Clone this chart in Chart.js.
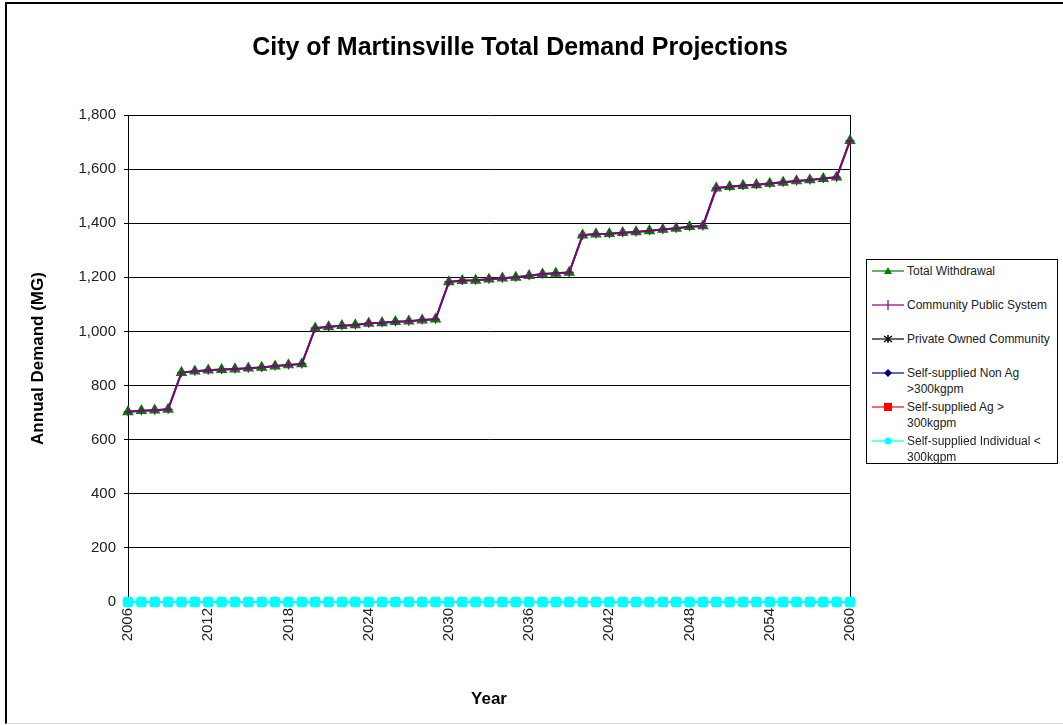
<!DOCTYPE html>
<html>
<head>
<meta charset="utf-8">
<title>City of Martinsville Total Demand Projections</title>
<script src="https://cdn.jsdelivr.net/npm/chart.js@4.4.0/dist/chart.umd.min.js"></script>
<style>
  body { margin: 0; background: #fff; font-family: Arial, "Liberation Sans", sans-serif; }
  #wrap { position: relative; width: 1063px; height: 725px; overflow: hidden; }
  #frame { position: absolute; left: 5px; top: 2px; width: 1060px; height: 722px; box-sizing: border-box;
           border-left: 2px solid #000; border-top: 2px solid #000; border-bottom: 1px solid #ddd; }
  #chartBox { position: absolute; left: 0; top: 0; width: 1063px; height: 725px; }
  #legend { position: absolute; left: 866px; top: 259px; width: 192px; height: 205px; box-sizing: border-box;
            border: 1px solid #000; background: #fff; }
  .item { position: relative; height: 34px; }
  .item svg { position: absolute; left: 5px; top: 3px; }
  .item span { position: absolute; left: 40px; top: 3px; font-size: 12px; line-height: 16px; color: #222; white-space: nowrap; }
</style>
</head>
<body>
<div id="wrap">
  <div id="frame"></div>
  <div id="chartBox"><canvas id="demandChart"></canvas></div>
  <div id="legend"></div>
</div>
<script>
const years = ['2006', '2007', '2008', '2009', '2010', '2011', '2012', '2013', '2014', '2015',
  '2016', '2017', '2018', '2019', '2020', '2021', '2022', '2023', '2024', '2025',
  '2026', '2027', '2028', '2029', '2030', '2031', '2032', '2033', '2034', '2035',
  '2036', '2037', '2038', '2039', '2040', '2041', '2042', '2043', '2044', '2045',
  '2046', '2047', '2048', '2049', '2050', '2051', '2052', '2053', '2054', '2055',
  '2056', '2057', '2058', '2059', '2060'];

const xTickLabels = ['2006', '2012', '2018', '2024', '2030', '2036', '2042', '2048', '2054', '2060'];
const yTickValues = [0, 200, 400, 600, 800, 1000, 1200, 1400, 1600, 1800];

const totalWithdrawal = [703, 707, 709, 712,
  848, 853, 857, 859, 861, 864, 867, 872, 876, 880,
  1012, 1017, 1021, 1024, 1030, 1032, 1036, 1038, 1042, 1045,
  1183, 1188, 1189, 1193, 1197, 1200, 1206, 1212, 1215, 1218,
  1356, 1360, 1361, 1365, 1368, 1372, 1377, 1381, 1387, 1390,
  1530, 1535, 1539, 1542, 1547, 1551, 1556, 1560, 1565, 1570,
  1705];

const communityPublic = [703, 707, 709, 712,
  848, 853, 857, 859, 861, 864, 867, 872, 876, 880,
  1012, 1017, 1021, 1024, 1030, 1032, 1036, 1038, 1042, 1045,
  1183, 1188, 1189, 1193, 1197, 1200, 1206, 1212, 1215, 1218,
  1356, 1360, 1361, 1365, 1368, 1372, 1377, 1381, 1387, 1390,
  1530, 1535, 1539, 1542, 1547, 1551, 1556, 1560, 1565, 1570,
  1705];

// the four small sectors read as zero in every year
const zeroDemand = [0, 0, 0, 0, 0, 0, 0, 0, 0, 0, 0, 0, 0, 0, 0, 0, 0, 0, 0, 0,
  0, 0, 0, 0, 0, 0, 0, 0, 0, 0, 0, 0, 0, 0, 0, 0, 0, 0, 0, 0,
  0, 0, 0, 0, 0, 0, 0, 0, 0, 0, 0, 0, 0, 0, 0];
const privateOwned = zeroDemand;
const selfNonAg = zeroDemand;
const selfAg = zeroDemand;
const selfIndividual = zeroDemand;

const seriesLabels = ['Total Withdrawal', 'Community Public System', 'Private Owned Community',
  'Self-supplied Non Ag\n>300kgpm', 'Self-supplied Ag >\n300kgpm', 'Self-supplied Individual <\n300kgpm'];

document.addEventListener('DOMContentLoaded', function() {
  const ctx = document.getElementById('demandChart').getContext('2d');

  function series(idx, data, color, style, radius, order) {
    return {
      label: seriesLabels[idx],
      data: data,
      borderColor: color,
      backgroundColor: color,
      pointBackgroundColor: color,
      pointBorderColor: color,
      pointStyle: style,
      pointRadius: radius,
      pointBorderWidth: 1.2,
      borderWidth: 2,
      tension: 0,
      clip: false,
      order: order
    };
  }

  const chart = new Chart(ctx, {
    type: 'line',
    data: {
      labels: years,
      datasets: [
        series(0, totalWithdrawal, '#008000', 'triangle', 5.5, 1),
        series(1, communityPublic, '#800080', 'cross', 4.5, 0),
        series(2, privateOwned, '#000000', 'star', 4, 5),
        series(3, selfNonAg, '#000080', 'rectRot', 4, 4),
        series(4, selfAg, '#ff0000', 'rect', 4.5, 3),
        series(5, selfIndividual, '#00ffff', 'rectRounded', 5.5, 2)
      ]
    },
    options: {
      responsive: true,
      maintainAspectRatio: false,
      animation: false,
      layout: { padding: { left: 0, right: 23, top: 0, bottom: 0 } },
      plugins: {
        legend: { display: false },
        tooltip: { enabled: false },
        title: {
          display: true,
          text: 'City of Martinsville Total Demand Projections',
          color: '#000',
          font: { family: 'Arial, "Liberation Sans", sans-serif', size: 25, weight: 'bold' },
          padding: { top: 33, bottom: 52 }
        }
      },
      scales: {
        x: {
          grid: { display: false, drawTicks: false },
          border: { display: true, color: '#000', width: 1 },
          ticks: {
            autoSkip: false,
            minRotation: 90,
            maxRotation: 90,
            padding: 6,
            color: '#222',
            font: { family: 'Arial, "Liberation Sans", sans-serif', size: 15 },
            callback: function(value) {
              const lbl = this.getLabelForValue(value);
              return xTickLabels.includes(lbl) ? lbl : '';
            }
          },
          title: {
            display: true,
            text: 'Year',
            color: '#000',
            font: { family: 'Arial, "Liberation Sans", sans-serif', size: 17, weight: 'bold' },
            padding: { top: 4, bottom: 15 }
          },
          afterFit: function(scale) { scale.height = 123; }
        },
        y: {
          min: 0,
          max: 1800,
          afterBuildTicks: function(scale) {
            scale.ticks = yTickValues.map(v => ({ value: v }));
          },
          grid: { color: '#000', lineWidth: 1, tickLength: 4, tickColor: '#000' },
          border: { display: true, color: '#000', width: 1 },
          ticks: {
            padding: 8,
            color: '#222',
            font: { family: 'Arial, "Liberation Sans", sans-serif', size: 15 }
          },
          title: {
            display: true,
            text: 'Annual Demand (MG)',
            color: '#000',
            font: { family: 'Arial, "Liberation Sans", sans-serif', size: 17, weight: 'bold' },
            padding: { top: 28, bottom: 4 }
          },
          afterFit: function(scale) { scale.width = 128; }
        },
        y2: {
          type: 'linear',
          position: 'right',
          min: 0,
          max: 1800,
          grid: { display: false, drawTicks: false },
          border: { display: true, color: '#000', width: 1 },
          ticks: { display: false },
          afterFit: function(scale) { scale.width = 190; }
        }
      }
    }
  });

  buildLegend(chart);
});

// legend box on the right, built from the chart's datasets
function buildLegend(chart) {
  const legendDiv = document.getElementById('legend');
  chart.data.datasets.forEach(function(ds) {
    const item = document.createElement('div');
    item.className = 'item';
    item.innerHTML = markerSvg(ds.pointStyle, ds.borderColor);
    const span = document.createElement('span');
    span.innerHTML = ds.label.split('\n').map(escapeHtml).join('<br>');
    item.appendChild(span);
    legendDiv.appendChild(item);
  });
}

function escapeHtml(s) {
  return s.replace(/&/g, '&amp;').replace(/</g, '&lt;').replace(/>/g, '&gt;');
}

function markerSvg(style, color) {
  const cx = 16, cy = 8;
  let mark = '';
  if (style === 'triangle') {
    mark = `<polygon points="${cx},${cy - 4} ${cx + 4},${cy + 3} ${cx - 4},${cy + 3}" fill="${color}"/>`;
  } else if (style === 'cross') {
    mark = `<path d="M${cx} ${cy - 5}V${cy + 5}" stroke="${color}" stroke-width="1.2"/>`;
  } else if (style === 'star') {
    mark = `<path d="M${cx} ${cy - 4}V${cy + 4}M${cx - 4} ${cy - 3}L${cx + 4} ${cy + 3}M${cx + 4} ${cy - 3}L${cx - 4} ${cy + 3}" stroke="${color}" stroke-width="1.5"/>`;
  } else if (style === 'rectRot') {
    mark = `<polygon points="${cx},${cy - 4} ${cx + 4},${cy} ${cx},${cy + 4} ${cx - 4},${cy}" fill="${color}"/>`;
  } else if (style === 'rect') {
    mark = `<rect x="${cx - 4}" y="${cy - 4}" width="8" height="8" fill="${color}"/>`;
  } else {
    mark = `<circle cx="${cx}" cy="${cy}" r="3.5" fill="${color}"/>`;
  }
  return `<svg width="32" height="16" viewBox="0 0 32 16"><line x1="0" y1="${cy}" x2="32" y2="${cy}" stroke="${color}" stroke-width="1.2"/>${mark}</svg>`;
}
</script>
</body>
</html>
